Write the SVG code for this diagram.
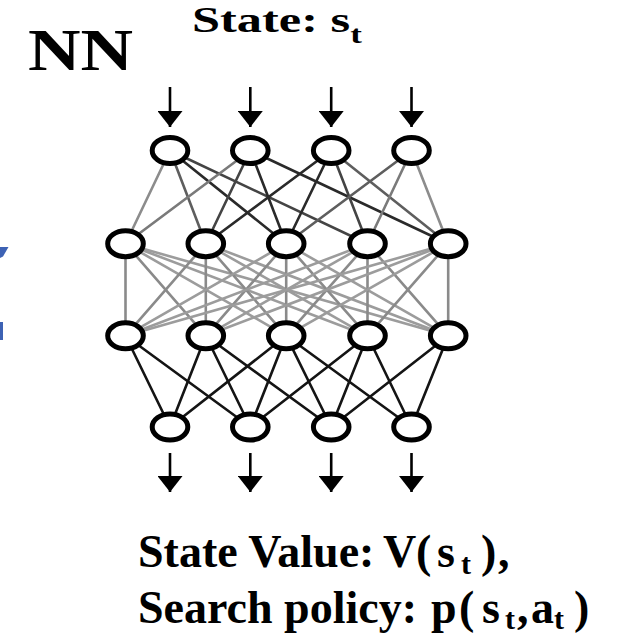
<svg xmlns="http://www.w3.org/2000/svg" width="620" height="634" viewBox="0 0 620 634">
  <style>
    .node { fill: #ffffff; stroke: #000000; stroke-width: 5; }
    .w { stroke-width: 2.6; fill: none; stroke-linecap: round; }
    .k1 { stroke: #2a2a2a; }
    .k2 { stroke: #444444; }
    .k3 { stroke: #5e5e5e; }
    .k4 { stroke: #7a7a7a; }
    .k5 { stroke: #8c8c8c; }
    .g1 { stroke: #8a8a8a; }
    .g2 { stroke: #9c9c9c; }
    .out { stroke: #141414; }
    .shaft { stroke: #000000; stroke-width: 2.6; }
    .lbl { font-family: "Liberation Serif", "Times New Roman", serif; font-weight: bold; fill: #000000; }
  </style>
  <defs>
    <!-- filled triangular arrowhead, drawn along the +x direction of the line -->
    <marker id="head" markerUnits="userSpaceOnUse" markerWidth="16" markerHeight="25" refX="16" refY="12.5" orient="auto" viewBox="0 0 16 25">
      <polygon points="0,0 16,12.5 0,25" fill="#000000"/>
    </marker>
  </defs>

  <rect width="620" height="634" fill="#ffffff"/>

  <!-- blue shape cut at the left edge -->
  <g id="edge-shape" fill="#3d62b4">
    <polygon points="0,247 8.5,247 3,256.5 0,258"/>
    <rect x="0" y="322" width="3" height="18"/>
  </g>

  <!-- labels -->
  <g id="title">
    <text class="lbl" x="28" y="70" font-size="60" textLength="105" lengthAdjust="spacingAndGlyphs">NN</text>
  </g>
  <g id="input-label">
    <text class="lbl" transform="translate(192,32) scale(1.4,1)" font-size="36">State: s<tspan font-size="25" dy="11">t</tspan></text>
  </g>
  <g id="output-label">
    <text class="lbl" x="138" y="567" font-size="46">State Value: <tspan x="383">V</tspan><tspan x="416">(</tspan><tspan x="437">s</tspan><tspan x="461" font-size="30" dy="7">t</tspan><tspan x="481" dy="-7">)</tspan><tspan x="498">,</tspan></text>
    <text class="lbl" x="138" y="623" font-size="46">Search policy: <tspan x="431">p</tspan><tspan x="459">(</tspan><tspan x="482">s</tspan><tspan x="505" font-size="30" dy="6">t</tspan><tspan x="517" dy="-6">,</tspan><tspan x="531">a</tspan><tspan x="554" font-size="30" dy="6">t</tspan><tspan x="574" dy="-6">)</tspan></text>
  </g>

  <!-- connectors -->
  <g id="connectors">
    <!-- input arrows -->
    <line class="shaft" x1="170" y1="87" x2="170" y2="127" marker-end="url(#head)"/>
    <line class="shaft" x1="250.3" y1="87" x2="250.3" y2="127" marker-end="url(#head)"/>
    <line class="shaft" x1="331.2" y1="87" x2="331.2" y2="127" marker-end="url(#head)"/>
    <line class="shaft" x1="411.5" y1="87" x2="411.5" y2="127" marker-end="url(#head)"/>

    <!-- input layer to first hidden layer -->
    <line class="w k5" x1="170" y1="150.5" x2="125.5" y2="243.7"/>
    <line class="w k3" x1="170" y1="150.5" x2="205.8" y2="243.7"/>
    <line class="w k1" x1="170" y1="150.5" x2="286.2" y2="243.7"/>
    <line class="w k2" x1="170" y1="150.5" x2="367.5" y2="243.7"/>

    <line class="w k4" x1="250.3" y1="150.5" x2="125.5" y2="243.7"/>
    <line class="w k2" x1="250.3" y1="150.5" x2="205.8" y2="243.7"/>
    <line class="w k1" x1="250.3" y1="150.5" x2="286.2" y2="243.7"/>
    <line class="w k1" x1="250.3" y1="150.5" x2="448.2" y2="243.7"/>

    <line class="w k1" x1="331.2" y1="150.5" x2="205.8" y2="243.7"/>
    <line class="w k1" x1="331.2" y1="150.5" x2="286.2" y2="243.7"/>
    <line class="w k2" x1="331.2" y1="150.5" x2="367.5" y2="243.7"/>
    <line class="w k3" x1="331.2" y1="150.5" x2="448.2" y2="243.7"/>

    <line class="w k3" x1="411.5" y1="150.5" x2="286.2" y2="243.7"/>
    <line class="w k4" x1="411.5" y1="150.5" x2="367.5" y2="243.7"/>
    <line class="w k5" x1="411.5" y1="150.5" x2="448.2" y2="243.7"/>

    <!-- first hidden layer to second hidden layer (fully connected) -->
    <line class="w g1" x1="125.5" y1="243.7" x2="125.5" y2="335.8"/>
    <line class="w g1" x1="125.5" y1="243.7" x2="205.8" y2="335.8"/>
    <line class="w g2" x1="125.5" y1="243.7" x2="286.2" y2="335.8"/>
    <line class="w g2" x1="125.5" y1="243.7" x2="367.5" y2="335.8"/>
    <line class="w g2" x1="125.5" y1="243.7" x2="448.2" y2="335.8"/>

    <line class="w g1" x1="205.8" y1="243.7" x2="125.5" y2="335.8"/>
    <line class="w g1" x1="205.8" y1="243.7" x2="205.8" y2="335.8"/>
    <line class="w g1" x1="205.8" y1="243.7" x2="286.2" y2="335.8"/>
    <line class="w g2" x1="205.8" y1="243.7" x2="367.5" y2="335.8"/>
    <line class="w g2" x1="205.8" y1="243.7" x2="448.2" y2="335.8"/>

    <line class="w g2" x1="286.2" y1="243.7" x2="125.5" y2="335.8"/>
    <line class="w g1" x1="286.2" y1="243.7" x2="205.8" y2="335.8"/>
    <line class="w g1" x1="286.2" y1="243.7" x2="286.2" y2="335.8"/>
    <line class="w g1" x1="286.2" y1="243.7" x2="367.5" y2="335.8"/>
    <line class="w g2" x1="286.2" y1="243.7" x2="448.2" y2="335.8"/>

    <line class="w g2" x1="367.5" y1="243.7" x2="125.5" y2="335.8"/>
    <line class="w g2" x1="367.5" y1="243.7" x2="205.8" y2="335.8"/>
    <line class="w g1" x1="367.5" y1="243.7" x2="286.2" y2="335.8"/>
    <line class="w g1" x1="367.5" y1="243.7" x2="367.5" y2="335.8"/>
    <line class="w g1" x1="367.5" y1="243.7" x2="448.2" y2="335.8"/>

    <line class="w g2" x1="448.2" y1="243.7" x2="125.5" y2="335.8"/>
    <line class="w g2" x1="448.2" y1="243.7" x2="205.8" y2="335.8"/>
    <line class="w g2" x1="448.2" y1="243.7" x2="286.2" y2="335.8"/>
    <line class="w g1" x1="448.2" y1="243.7" x2="367.5" y2="335.8"/>
    <line class="w g1" x1="448.2" y1="243.7" x2="448.2" y2="335.8"/>

    <!-- second hidden layer to output layer -->
    <line class="w out" x1="125.5" y1="335.8" x2="170" y2="427"/>
    <line class="w out" x1="125.5" y1="335.8" x2="250.3" y2="427"/>
    <line class="w out" x1="205.8" y1="335.8" x2="170" y2="427"/>
    <line class="w out" x1="205.8" y1="335.8" x2="250.3" y2="427"/>
    <line class="w out" x1="205.8" y1="335.8" x2="331.2" y2="427"/>
    <line class="w out" x1="286.2" y1="335.8" x2="170" y2="427"/>
    <line class="w out" x1="286.2" y1="335.8" x2="250.3" y2="427"/>
    <line class="w out" x1="286.2" y1="335.8" x2="331.2" y2="427"/>
    <line class="w out" x1="286.2" y1="335.8" x2="411.5" y2="427"/>
    <line class="w out" x1="367.5" y1="335.8" x2="250.3" y2="427"/>
    <line class="w out" x1="367.5" y1="335.8" x2="331.2" y2="427"/>
    <line class="w out" x1="367.5" y1="335.8" x2="411.5" y2="427"/>
    <line class="w out" x1="448.2" y1="335.8" x2="331.2" y2="427"/>
    <line class="w out" x1="448.2" y1="335.8" x2="411.5" y2="427"/>

    <!-- output arrows -->
    <line class="shaft" x1="170" y1="453" x2="170" y2="492" marker-end="url(#head)"/>
    <line class="shaft" x1="250.3" y1="453" x2="250.3" y2="492" marker-end="url(#head)"/>
    <line class="shaft" x1="331.2" y1="453" x2="331.2" y2="492" marker-end="url(#head)"/>
    <line class="shaft" x1="411.5" y1="453" x2="411.5" y2="492" marker-end="url(#head)"/>
  </g>

  <!-- input layer -->
  <g id="in1"><ellipse class="node" cx="170" cy="150.5" rx="17.8" ry="13"/></g>
  <g id="in2"><ellipse class="node" cx="250.3" cy="150.5" rx="17.8" ry="13"/></g>
  <g id="in3"><ellipse class="node" cx="331.2" cy="150.5" rx="17.8" ry="13"/></g>
  <g id="in4"><ellipse class="node" cx="411.5" cy="150.5" rx="17.8" ry="13"/></g>

  <!-- first hidden layer -->
  <g id="h1a"><ellipse class="node" cx="125.5" cy="243.7" rx="17.8" ry="13"/></g>
  <g id="h1b"><ellipse class="node" cx="205.8" cy="243.7" rx="17.8" ry="13"/></g>
  <g id="h1c"><ellipse class="node" cx="286.2" cy="243.7" rx="17.8" ry="13"/></g>
  <g id="h1d"><ellipse class="node" cx="367.5" cy="243.7" rx="17.8" ry="13"/></g>
  <g id="h1e"><ellipse class="node" cx="448.2" cy="243.7" rx="17.8" ry="13"/></g>

  <!-- second hidden layer -->
  <g id="h2a"><ellipse class="node" cx="125.5" cy="335.8" rx="17.8" ry="13"/></g>
  <g id="h2b"><ellipse class="node" cx="205.8" cy="335.8" rx="17.8" ry="13"/></g>
  <g id="h2c"><ellipse class="node" cx="286.2" cy="335.8" rx="17.8" ry="13"/></g>
  <g id="h2d"><ellipse class="node" cx="367.5" cy="335.8" rx="17.8" ry="13"/></g>
  <g id="h2e"><ellipse class="node" cx="448.2" cy="335.8" rx="17.8" ry="13"/></g>

  <!-- output layer -->
  <g id="out1"><ellipse class="node" cx="170" cy="427" rx="17.8" ry="13"/></g>
  <g id="out2"><ellipse class="node" cx="250.3" cy="427" rx="17.8" ry="13"/></g>
  <g id="out3"><ellipse class="node" cx="331.2" cy="427" rx="17.8" ry="13"/></g>
  <g id="out4"><ellipse class="node" cx="411.5" cy="427" rx="17.8" ry="13"/></g>
</svg>
